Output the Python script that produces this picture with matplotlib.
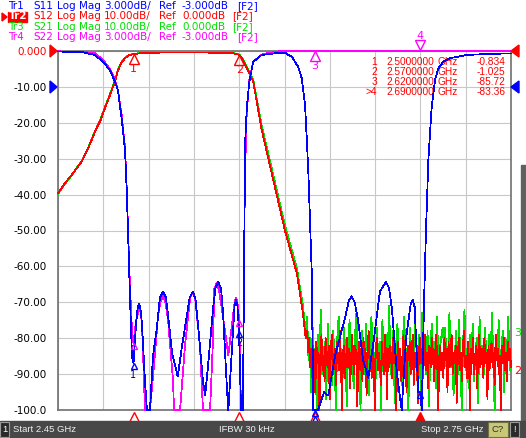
import numpy as np
import matplotlib
matplotlib.use("Agg")
import matplotlib.pyplot as plt
from matplotlib import transforms
from matplotlib.patches import Rectangle, Polygon

W, H = 526, 438

# sweep / marker settings
f_start, f_stop = 2.45, 2.75
marker_freq = [2.50, 2.57, 2.62, 2.69]
marker_name = ["1", "2", "3", ">4"]
marker_text = ["-0.834", "-1.025", "-85.72", "-83.36"]
s12_at_mk = [-0.834, -1.025, -85.72, -83.36]
s11_at_mk = [-26.1, -23.4, -30.0, -28.5]
s22_at_mk = [-24.4, -22.5, 0.0, 0.0]

# Tr1 S11, dB (3 dB/div, ref -3 dB)
s11_f = [2.4500, 2.4646, 2.4745, 2.4798, 2.4844, 2.4877, 2.4897, 2.4922, 2.4944, 2.4955,
         2.4964, 2.4977, 2.4990, 2.5000, 2.5017, 2.5027, 2.5036, 2.5046, 2.5056, 2.5076,
         2.5089, 2.5109, 2.5129, 2.5156, 2.5175, 2.5195, 2.5215, 2.5235, 2.5255, 2.5293,
         2.5322, 2.5355, 2.5372, 2.5392, 2.5410, 2.5427, 2.5460, 2.5474, 2.5493, 2.5527,
         2.5543, 2.5562, 2.5580, 2.5593, 2.5620, 2.5628, 2.5659, 2.5670, 2.5679, 2.5688,
         2.5699, 2.5712, 2.5725, 2.5732, 2.5738, 2.5741, 2.5750, 2.5767, 2.5793, 2.5849,
         2.5948, 2.6003, 2.6048, 2.6091, 2.6114, 2.6136, 2.6147, 2.6158, 2.6180, 2.6191,
         2.6222, 2.6262, 2.6290, 2.6334, 2.6401, 2.6425, 2.6445, 2.6465, 2.6487, 2.6520,
         2.6555, 2.6593, 2.6632, 2.6652, 2.6672, 2.6692, 2.6712, 2.6745, 2.6776, 2.6805,
         2.6835, 2.6849, 2.6862, 2.6871, 2.6886, 2.6900, 2.6909, 2.6924, 2.6937, 2.6953,
         2.6975, 2.6997, 2.7019, 2.7052, 2.7096, 2.7207, 2.7361, 2.7500]
s11_db = [-0.05, -0.06, -0.33, -0.90, -1.60, -2.55, -3.30, -5.70, -8.30, -11.6,
          -15.2, -20.7, -25.5, -26.1, -22.8, -21.5, -21.15, -21.5, -22.8, -27.6,
          -30.0, -30.0, -25.5, -23.0, -20.6, -20.1, -20.6, -22.8, -25.2, -27.2,
          -24.6, -22.0, -20.6, -20.1, -20.7, -22.8, -27.6, -28.8, -26.4, -21.5,
          -19.8, -19.3, -19.9, -21.9, -28.5, -30.0, -23.4, -21.2, -20.8, -21.3,
          -23.4, -30.0, -30.0, -18.0, -10.2, -7.2, -4.8, -2.55, -0.90, -0.33,
          -0.18, -0.15, -0.48, -1.32, -2.28, -4.50, -7.20, -10.2, -18.3, -30.0,
          -30.0, -28.5, -28.8, -25.5, -22.3, -20.9, -20.5, -21.0, -22.5, -25.8,
          -27.3, -24.0, -20.1, -19.7, -19.3, -19.8, -21.6, -27.0, -30.0, -24.0,
          -21.2, -20.8, -21.4, -24.0, -28.5, -28.5, -30.0, -21.0, -15.0, -9.0,
          -4.65, -2.40, -1.44, -0.90, -0.60, -0.33, -0.24, -0.20]

# Tr4 S22, dB (3 dB/div, ref -3 dB)
s22_f = [2.4500, 2.4646, 2.4745, 2.4798, 2.4844, 2.4877, 2.4897, 2.4922, 2.4944, 2.4955,
         2.4964, 2.4977, 2.4990, 2.5000, 2.5017, 2.5030, 2.5040, 2.5050, 2.5060, 2.5076,
         2.5109, 2.5135, 2.5162, 2.5178, 2.5195, 2.5212, 2.5229, 2.5262, 2.5268, 2.5308,
         2.5341, 2.5375, 2.5392, 2.5408, 2.5440, 2.5460, 2.5507, 2.5527, 2.5535, 2.5550,
         2.5565, 2.5586, 2.5628, 2.5670, 2.5679, 2.5688, 2.5700, 2.5712, 2.5725, 2.5732,
         2.5738, 2.5750, 2.5767, 2.5793, 2.5849, 2.5891, 2.5960, 2.6200, 2.7500]
s22_db = [-0.03, -0.05, -0.18, -0.75, -1.50, -2.40, -3.30, -5.40, -8.10, -11.4,
          -15.0, -19.8, -23.4, -24.4, -22.5, -21.9, -21.5, -21.9, -24.0, -30.0,
          -30.0, -26.4, -22.2, -21.0, -20.5, -21.0, -22.5, -27.6, -30.0, -30.0,
          -24.6, -20.6, -20.1, -20.6, -24.6, -30.0, -30.0, -24.0, -19.9, -19.4,
          -19.9, -21.6, -25.4, -21.0, -20.6, -21.0, -22.5, -30.0, -30.0, -18.0,
          -10.5, -5.1, -2.4, -0.9, -0.3, -0.18, -0.03, -0.02, -0.02]

# Tr2 S12 / Tr3 S21, dB (10 dB/div, ref 0 dB), smooth part
s12_f = [2.4500, 2.4546, 2.4591, 2.4657, 2.4701, 2.4745, 2.4778, 2.4811, 2.4844, 2.4877,
         2.4897, 2.4917, 2.4944, 2.4970, 2.5000, 2.5056, 2.5175, 2.5293, 2.5440, 2.5599,
         2.5659, 2.5700, 2.5725, 2.5750, 2.5772, 2.5793, 2.5849, 2.5926, 2.6003, 2.6082,
         2.6122, 2.6140]
s12_db = [-39.6, -36.8, -34.5, -30.8, -27.0, -22.5, -19.7, -15.9, -12.3, -8.5,
          -5.5, -3.5, -2.0, -1.2, -0.834, -0.6, -0.45, -0.4, -0.4, -0.55,
          -0.65, -1.025, -2.5, -4.8, -6.7, -8.5, -22.0, -36.0, -50.0, -62.0,
          -73.0, -80.0]
s21_db = [-39.8, -37.0, -34.6, -30.6, -26.8, -22.3, -19.4, -15.6, -12.0, -8.2,
          -5.3, -3.3, -1.9, -1.1, -0.80, -0.5, -0.35, -0.3, -0.35, -0.45,
          -0.6, -1.0, -2.3, -4.5, -6.2, -8.0, -20.8, -34.6, -48.6, -60.5,
          -71.0, -78.0]

# noise floor samples past the stop band
s12_noise = [-78, -84, -80, -88, -83, -91, -82, -86, -95, -81,
             -87, -84, -100, -83, -79, -89, -85, -92, -80, -86,
             -88, -82, -97, -84, -79, -90, -86, -83, -93, -81,
             -85, -89, -78, -87, -100, -84, -82, -91, -86, -80,
             -88, -83, -94, -85, -79, -87, -90, -82, -86, -99,
             -84, -81, -89, -85, -92, -80, -87, -83, -96, -84,
             -78, -88, -85, -91, -82, -86, -100, -83, -80, -89,
             -84, -87, -93, -81, -86, -90, -79, -85, -97, -83,
             -88, -82, -86, -91, -80, -87, -84, -100, -85, -81,
             -89, -83, -92, -86, -79, -88, -84, -95, -82, -86,
             -81, -90, -85, -79, -93, -84, -88, -82, -98, -85,
             -80, -87, -83, -91, -86, -79, -89, -84, -94, -82,
             -83, -88, -80, -86, -92, -84, -79, -87, -100, -85,
             -82, -89, -84, -91, -80, -86, -83, -95, -81, -88,
             -85, -79, -90, -84, -87, -82, -98, -86, -80, -89,
             -84, -92, -83, -78, -88, -85, -91, -81, -86, -100,
             -83, -87, -80, -90, -85, -82, -94, -84, -79, -88,
             -86, -83, -91, -80, -87, -84, -97, -82, -89, -85,
             -81, -88, -84, -93, -79, -86, -83, -90, -85, -100,
             -82, -87, -80, -89, -84, -92, -81, -86, -83, -88]
s21_noise = [-74, -86, -80, -95, -77, -88, -83, -100, -79, -85,
             -72, -90, -84, -81, -97, -76, -87, -82, -93, -78,
             -85, -100, -80, -74, -89, -83, -91, -77, -86, -99,
             -81, -75, -88, -84, -94, -79, -73, -87, -82, -100,
             -78, -85, -90, -76, -83, -96, -80, -74, -88, -84,
             -92, -77, -86, -81, -100, -75, -85, -89, -79, -83,
             -71, -90, -84, -78, -98, -82, -76, -87, -85, -93,
             -80, -74, -89, -83, -100, -77, -86, -81, -91, -75,
             -84, -88, -79, -95, -73, -86, -82, -90, -78, -99,
             -85, -76, -87, -81, -94, -74, -88, -83, -80, -77,
             -82, -77, -91, -85, -73, -88, -80, -96, -84, -78,
             -90, -75, -86, -100, -81, -72, -89, -83, -94, -79,
             -86, -76, -92, -84, -80, -98, -74, -87, -82, -90,
             -77, -85, -93, -79, -88, -73, -84, -100, -81, -86,
             -75, -91, -83, -78, -95, -80, -87, -74, -89, -84]

y_labels = ["0.000", "-10.00", "-20.00", "-30.00", "-40.00", "-50.00",
            "-60.00", "-70.00", "-80.00", "-90.00", "-100.0"]

BLUE, RED, GREEN, MAG = "#0000ff", "#ff0000", "#00e000", "#ff00ff"

plt.rcParams["font.family"] = ["DejaVu Sans"]
plt.rcParams["font.size"] = 7

fig = plt.figure(figsize=(W / 100, H / 100), dpi=100)
fig.patch.set_facecolor("white")


def fx(x):
    return x / W


def fy(y):
    return 1 - y / H


ax = fig.add_axes([fx(58), fy(410), 453 / W, 359 / H])
ax.set_xlim(f_start, f_stop)
ax.set_ylim(-100, 0)
ax.set_xticks(np.linspace(f_start, f_stop, 11))
ax.set_yticks(np.arange(0, -101, -10))
ax.set_xticklabels([])
ax.set_yticklabels(y_labels)
ax.tick_params(length=0, pad=8, labelsize=7.5)
ax.get_yticklabels()[0].set_color(RED)
ax.grid(True, color="#c8c8c8", lw=0.8)
for sp in ax.spines.values():
    sp.set_color("#707070")
    sp.set_linewidth(1.2)

ax2 = ax.twinx()
ax2.set_ylim(-30, 0)
ax2.axis("off")

# traces
tr = dict(lw=0.55, clip_on=False, antialiased=False)
noise_f = np.linspace(2.6150, f_stop, len(s21_noise))
ax.plot(s12_f + list(noise_f), s21_db + s21_noise, color=GREEN, zorder=3, **tr)
noise_f2 = np.linspace(2.6150, f_stop, len(s12_noise))
ax.plot(s12_f + list(noise_f2), s12_db + s12_noise, color=RED, zorder=4, **tr)
ax2.plot(s22_f, s22_db, color=MAG, zorder=3, **tr)
ax2.plot(s11_f, s11_db, color=BLUE, zorder=4, **tr)


def off(t, dy):
    return transforms.offset_copy(t, fig=fig, x=0, y=dy, units="dots")


# markers on S12 trace (1, 2)
for i in range(2):
    ax.plot(marker_freq[i], s12_at_mk[i], marker="^", ms=7, mfc="none", mec=RED, mew=1,
            transform=off(ax.transData, -5), zorder=6)
    ax.text(marker_freq[i], s12_at_mk[i], marker_name[i], color=RED, ha="center", va="center",
            fontsize=8, transform=off(ax.transData, -15), zorder=6)
# markers 3 and 4 on S22
ax2.plot(marker_freq[2], s22_at_mk[2], marker="^", ms=7, mfc="none", mec=MAG, mew=1,
         transform=off(ax2.transData, -5), clip_on=False, zorder=6)
ax2.text(marker_freq[2], s22_at_mk[2], "3", color=MAG, ha="center", va="center", fontsize=8,
         transform=off(ax2.transData, -15), zorder=6)
ax2.plot(marker_freq[3], s22_at_mk[3], marker="v", ms=7, mfc="none", mec=MAG, mew=1,
         transform=off(ax2.transData, 6), clip_on=False, zorder=6)
ax2.text(marker_freq[3], s22_at_mk[3], "4", color=MAG, ha="center", va="center", fontsize=8,
         transform=off(ax2.transData, 15), clip_on=False, zorder=6)
# markers on S11 / S22 near the floor
for i in range(4):
    ax2.plot(marker_freq[i], s11_at_mk[i], marker="^", ms=5, mfc="none", mec=BLUE, mew=1,
             transform=off(ax2.transData, -3), clip_on=False, zorder=6)
for i in range(2):
    ax2.plot(marker_freq[i], s22_at_mk[i], marker="^", ms=4, mfc="none", mec=MAG, mew=1,
             transform=off(ax2.transData, -3), clip_on=False, zorder=5)
    ax2.text(marker_freq[i], s11_at_mk[i], marker_name[i], color="#000080", ha="center",
             va="center", fontsize=7, transform=off(ax2.transData, -12), zorder=6)

# stimulus markers under the grid
xt = ax.get_xaxis_transform()
for i in range(4):
    ax.plot(marker_freq[i], 0, marker="^", ms=7, mfc=RED if i == 3 else "none", mec=RED, mew=1,
            transform=off(xt, -7), clip_on=False)
ax.plot(marker_freq[2], 0, marker="^", ms=4, mfc="none", mec=BLUE, mew=1,
        transform=off(xt, -9), clip_on=False)

# marker table
rows_y = [62, 72, 82, 92]
for i in range(4):
    kw = dict(color=RED, va="center", fontsize=7.3, family="Liberation Sans",
              transform=fig.transFigure, clip_on=True)
    ax.text(fx(377), fy(rows_y[i]), marker_name[i], ha="right", **kw)
    ax.text(fx(434), fy(rows_y[i]), f"{marker_freq[i]:.7f}", ha="right", **kw)
    ax.text(fx(437), fy(rows_y[i]), "GHz", ha="left", **kw)
    ax.text(fx(477), fy(rows_y[i]), marker_text[i], ha="left", **kw)

# scale reference arrows
for poly, c in [([(50, 45), (50, 57), (57, 51)], RED), ([(50, 81), (50, 93), (57, 87)], BLUE),
                ([(519, 45), (519, 57), (511, 51)], RED), ([(519, 81), (519, 93), (511, 87)], BLUE)]:
    fig.add_artist(Polygon([(fx(a), fy(b)) for a, b in poly], closed=True, color=c,
                           transform=fig.transFigure))
fig.text(fx(514), fy(333), "3", color=GREEN, fontsize=8, va="center")
fig.text(fx(514), fy(371), "2", color=RED, fontsize=8, va="center")
fig.add_artist(Rectangle((fx(521), fy(421)), 5 / W, 256 / H, color="#606060",
                         transform=fig.transFigure))

# trace header lines
hdr = [
    (BLUE, ["Tr1", "S11", "Log", "Mag", "3.000dB/", "Ref", "-3.000dB", "[F2]"]),
    (RED, ["Tr2", "S12", "Log", "Mag", "10.00dB/", "Ref", "0.000dB", "[F2]"]),
    (GREEN, ["Tr3", "S21", "Log", "Mag", "10.00dB/", "Ref", "0.000dB", "[F2]"]),
    (MAG, ["Tr4", "S22", "Log", "Mag", "3.000dB/", "Ref", "-3.000dB", "[F2]"]),
]
word_x = [8, 33, 57, 79, 104, 159, 182, 237]
word_x2 = [8, 33, 57, 79, 104, 159, 182, 232]
for r, (c, words) in enumerate(hdr):
    y = 6 + r * 10.3
    xs = word_x if words[6].startswith("-") else word_x2
    for j, w in enumerate(words):
        if r == 1 and j == 0:
            fig.add_artist(Rectangle((fx(8), fy(22)), 19 / W, 10 / H, color=RED,
                                     transform=fig.transFigure))
            fig.text(fx(8.5), fy(y), w, color="white", fontsize=7.5, va="center", weight="bold")
        else:
            fig.text(fx(xs[j]), fy(y), w, color=c, fontsize=7.5, va="center")
fig.add_artist(Polygon([(fx(2), fy(13)), (fx(2), fy(21)), (fx(7), fy(17))], closed=True,
                       color=RED, transform=fig.transFigure))

# status bar
sb = dict(family="Liberation Sans", fontsize=6.8, va="center")
fig.add_artist(Rectangle((0, 0), 1, 17 / H, color="#484848", transform=fig.transFigure))
fig.add_artist(Rectangle((0, fy(437)), 9 / W, 15 / H, facecolor="#2a2a2a", edgecolor="#9a9a9a",
                         lw=0.8, transform=fig.transFigure))
fig.text(fx(4.5), fy(429.5), "1", color="white", ha="center", **sb)
fig.text(fx(13), fy(429.5), "Start 2.45 GHz", color="#f0f0f0", **sb)
fig.text(fx(247), fy(429.5), "IFBW 30 kHz", color="#f0f0f0", ha="center", **sb)
fig.text(fx(421), fy(429.5), "Stop 2.75 GHz", color="#f0f0f0", **sb)
fig.add_artist(Rectangle((fx(488), fy(437)), 20 / W, 15 / H, facecolor="#c8c878", edgecolor="#707040",
                         lw=0.8, transform=fig.transFigure))
fig.text(fx(498), fy(429.5), "C?", color="#303030", ha="center", **sb)
fig.add_artist(Rectangle((fx(510), fy(437)), 9 / W, 15 / H, facecolor="#2a2a2a", edgecolor="#9a9a9a",
                         lw=0.8, transform=fig.transFigure))
fig.text(fx(514.5), fy(429.5), "!", color="white", ha="center", **sb)

fig.savefig("out.png", dpi=100)
